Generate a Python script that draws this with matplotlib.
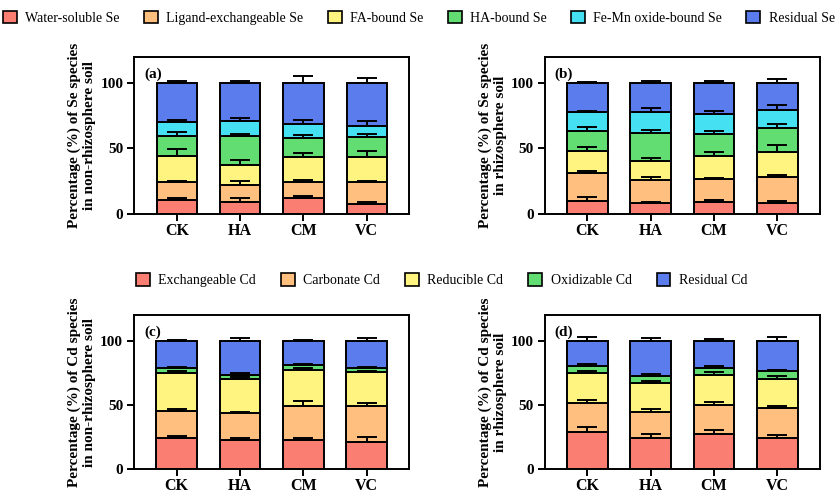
import matplotlib
matplotlib.use("Agg")
import matplotlib.pyplot as plt
from matplotlib.patches import Patch
import numpy as np

plt.rcParams['font.family'] = ['Liberation Serif', 'DejaVu Serif']

treatments = ["CK", "HA", "CM", "VC"]

se_species = ["Water-soluble Se", "Ligand-exchangeable Se", "FA-bound Se",
              "HA-bound Se", "Fe-Mn oxide-bound Se", "Residual Se"]
cd_species = ["Exchangeable Cd", "Carbonate Cd", "Reducible Cd",
              "Oxidizable Cd", "Residual Cd"]

se_colors = ["#FA7F72", "#FFBF7F", "#FFF47F", "#62DD72", "#45E1F2", "#5B7CEC"]
cd_colors = ["#FA7F72", "#FFBF7F", "#FFF47F", "#62DD72", "#5B7CEC"]

# rows = species, columns = CK, HA, CM, VC
se_non = [[10.7, 9.2, 11.8, 7.4],
          [13.3, 12.5, 12.8, 16.9],
          [20.5, 15.6, 18.9, 19.2],
          [15.3, 22.3, 14.6, 15.1],
          [10.8, 11.2, 10.7, 8.7],
          [29.4, 29.2, 31.2, 32.7]]
se_non_err = [[1.5, 2.6, 1.8, 1.6],
              [1.3, 3.4, 1.2, 1.0],
              [5.0, 3.6, 3.0, 4.3],
              [3.0, 1.8, 2.3, 2.3],
              [0.8, 2.6, 2.8, 3.8],
              [1.8, 1.8, 5.1, 4.3]]

se_rhizo = [[10.0, 7.9, 9.2, 7.9],
            [21.2, 17.9, 17.7, 20.2],
            [16.6, 14.4, 17.1, 19.5],
            [15.9, 21.7, 16.9, 18.1],
            [14.3, 15.8, 15.3, 13.8],
            [22.0, 22.3, 23.8, 20.5]]
se_rhizo_err = [[3.0, 1.1, 1.3, 1.8],
                [1.8, 2.3, 0.7, 1.6],
                [3.4, 2.3, 3.1, 5.1],
                [2.8, 2.3, 2.8, 3.1],
                [0.5, 2.9, 2.1, 4.1],
                [1.0, 1.5, 2.0, 3.3]]

cd_non = [[24.0, 22.9, 22.6, 21.3],
          [21.6, 20.9, 26.6, 27.9],
          [29.4, 26.8, 27.7, 26.2],
          [3.6, 2.9, 3.9, 3.3],
          [21.4, 26.5, 19.2, 21.3]]
cd_non_err = [[2.0, 1.3, 1.8, 3.8],
              [1.3, 1.0, 4.1, 2.6],
              [1.8, 0.8, 1.6, 1.3],
              [1.3, 1.0, 1.0, 0.5],
              [0.8, 2.3, 0.8, 1.8]]

cd_rhizo = [[29.0, 24.1, 27.4, 24.1],
            [22.3, 20.3, 22.6, 23.8],
            [23.6, 22.8, 23.3, 22.6],
            [5.6, 5.6, 5.2, 5.9],
            [19.5, 27.2, 21.5, 23.6]]
cd_rhizo_err = [[3.8, 3.1, 2.9, 2.6],
                [2.3, 2.3, 2.3, 1.1],
                [1.5, 1.8, 2.6, 1.8],
                [1.6, 1.3, 1.5, 1.0],
                [2.8, 1.8, 1.5, 2.6]]


def stacked(ax, values, errors, colors, label, ylabel):
    x = np.arange(len(treatments))
    bottom = np.zeros(len(treatments))
    for vals, errs, col in zip(values, errors, colors):
        vals = np.array(vals)
        ax.bar(x, vals, width=0.64, bottom=bottom, color=col,
               edgecolor="black", linewidth=1.4, zorder=2)
        top = bottom + vals
        # only the upper half of each error bar is visible
        ax.errorbar(x, top, yerr=[np.zeros(len(x)), errs], fmt="none",
                    ecolor="black", elinewidth=1.4, capsize=7,
                    capthick=1.4, zorder=3)
        bottom = top
    ax.set_xlim(-0.67, 3.67)
    ax.set_ylim(0, 120)
    ax.set_yticks([0, 50, 100])
    ax.set_xticks(x)
    ax.set_xticklabels(treatments, fontsize=11.5, fontweight="bold")
    for t in ax.get_yticklabels():
        t.set_fontsize(11)
        t.set_fontweight("bold")
    ax.tick_params(axis="both", width=1.4, length=5, direction="out", pad=3)
    ax.tick_params(axis="x", pad=1.5)
    for s in ax.spines.values():
        s.set_linewidth(1.4)
    ax.set_ylabel(ylabel, fontsize=11, fontweight="bold", labelpad=3,
                  linespacing=1.2)
    ax.text(0.035, 0.93, label, transform=ax.transAxes, fontsize=11,
            fontweight="bold", va="top", ha="left")


fig = plt.figure(figsize=(8.38, 4.94), dpi=100)

ax_a = fig.add_axes([0.1605, 0.5674, 0.3278, 0.3172])
ax_b = fig.add_axes([0.6504, 0.5674, 0.3278, 0.3172])
ax_c = fig.add_axes([0.1603, 0.0500, 0.3278, 0.3124])
ax_d = fig.add_axes([0.6504, 0.0500, 0.3278, 0.3124])

stacked(ax_a, se_non, se_non_err, se_colors, "(a)",
        "Percentage (%) of Se species\nin non-rhizosphere soil")
stacked(ax_b, se_rhizo, se_rhizo_err, se_colors, "(b)",
        "Percentage (%) of Se species\nin rhizosphere soil")
stacked(ax_c, cd_non, cd_non_err, cd_colors, "(c)",
        "Percentage (%) of Cd species\nin non-rhizosphere soil")
stacked(ax_d, cd_rhizo, cd_rhizo_err, cd_colors, "(d)",
        "Percentage (%) of Cd species\nin rhizosphere soil")

se_handles = [Patch(facecolor=c, edgecolor="black", linewidth=1.2)
              for c in se_colors]
cd_handles = [Patch(facecolor=c, edgecolor="black", linewidth=1.2)
              for c in cd_colors]

fig.legend(se_handles, se_species, loc="center", ncol=6,
           bbox_to_anchor=(0.5, 0.964), frameon=False, fontsize=10,
           handlelength=1.0, handleheight=1.0, handletextpad=0.6,
           columnspacing=1.75)
fig.legend(cd_handles, cd_species, loc="center", ncol=5,
           bbox_to_anchor=(0.527, 0.433), frameon=False, fontsize=10,
           handlelength=1.0, handleheight=1.0, handletextpad=0.6,
           columnspacing=1.8)

fig.savefig("out.png", dpi=100)
